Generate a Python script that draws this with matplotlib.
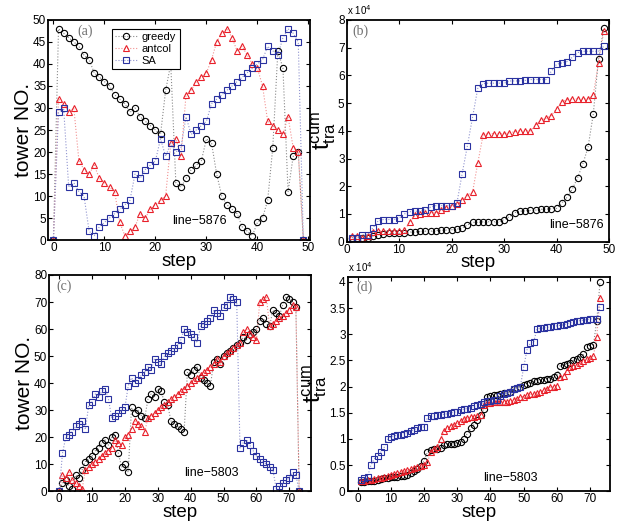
import matplotlib
matplotlib.use('Agg')
import matplotlib.pyplot as plt

plt.rcParams['font.family'] = ['Liberation Sans', 'DejaVu Sans']

# (a) tower visiting order, line-5876
a_steps = list(range(50))
a_greedy = [0, 48, 47, 46, 45, 44, 42, 41, 38, 37, 36, 35, 33, 32, 31, 29, 30, 28, 27, 26,
            25, 24, 34, 40, 13, 12, 14, 16, 17, 18, 23, 22, 15, 10, 8, 7, 6, 3, 2, 1,
            4, 5, 9, 21, 43, 39, 11, 19, 20, 0]
a_antcol = [0, 32, 31, 29, 30, 18, 16, 15, 17, 14, 13, 12, 11, 4, 1, 2, 3, 6, 5, 7,
            8, 9, 10, 22, 23, 19, 33, 34, 36, 37, 38, 41, 45, 47, 48, 46, 43, 44, 42, 40,
            39, 35, 27, 26, 25, 24, 28, 21, 20, 0]
a_sa = [0, 29, 30, 12, 13, 11, 10, 2, 1, 3, 4, 5, 6, 7, 8, 9, 15, 14, 16, 17,
        18, 23, 19, 22, 20, 21, 28, 24, 25, 26, 27, 31, 32, 33, 34, 35, 36, 37, 38, 39,
        40, 41, 44, 43, 42, 46, 48, 47, 45, 0]

# (b) cumulative travel time (x 10^4), line-5876
b_steps = list(range(1, 50))
b_greedy = [0.15, 0.15, 0.15, 0.15, 0.2, 0.25, 0.28, 0.3, 0.3, 0.3,
            0.32, 0.35, 0.35, 0.37, 0.38, 0.38, 0.4, 0.42, 0.42, 0.43,
            0.45, 0.5, 0.6, 0.7, 0.7, 0.72, 0.72, 0.72, 0.72, 0.8,
            0.9, 1.05, 1.1, 1.12, 1.13, 1.14, 1.17, 1.18, 1.19, 1.2,
            1.4, 1.6, 1.9, 2.3, 2.8, 3.4, 4.6, 6.6, 7.7]
b_antcol = [0.2, 0.2, 0.15, 0.2, 0.35, 0.4, 0.4, 0.4, 0.4, 0.4,
            0.42, 0.7, 0.95, 1.0, 1.02, 1.05, 1.05, 1.15, 1.2, 1.28,
            1.35, 1.5, 1.65, 1.8, 2.85, 3.85, 3.9, 3.9, 3.9, 3.9,
            3.92, 3.97, 4.0, 4.0, 4.0, 4.2, 4.4, 4.45, 4.55, 4.8,
            5.05, 5.12, 5.15, 5.15, 5.15, 5.15, 5.3, 6.45, 7.6]
b_sa = [0.15, 0.15, 0.25, 0.25, 0.5, 0.75, 0.8, 0.8, 0.8, 0.85,
        1.0, 1.08, 1.1, 1.1, 1.15, 1.25, 1.3, 1.3, 1.3, 1.3,
        1.38, 2.45, 3.45, 4.5, 5.55, 5.7, 5.72, 5.72, 5.72, 5.72,
        5.8, 5.8, 5.8, 5.82, 5.85, 5.85, 5.85, 5.85, 6.15, 6.4,
        6.45, 6.5, 6.65, 6.82, 6.87, 6.87, 6.87, 6.87, 7.05]

# (c) tower visiting order, line-5803
c_steps = list(range(74))
c_greedy = [0, 3, 4, 2, 1, 6, 5, 8, 11, 12, 13, 15, 16, 18, 19, 17, 20, 21, 14, 9,
            10, 7, 31, 29, 30, 28, 27, 34, 36, 35, 38, 37, 33, 32, 26, 25, 24, 23, 22, 44,
            43, 45, 46, 42, 41, 40, 39, 48, 49, 47, 50, 51, 52, 53, 54, 55, 57, 56, 58, 59,
            60, 63, 64, 62, 61, 67, 66, 65, 69, 72, 71, 70, 68, 0]
c_antcol = [0, 6, 5, 7, 4, 3, 2, 1, 8, 9, 10, 11, 12, 13, 14, 15, 16, 19, 18, 17,
            20, 21, 23, 26, 25, 24, 22, 27, 28, 29, 30, 31, 32, 33, 34, 35, 36, 37, 38, 39,
            40, 41, 42, 43, 44, 45, 46, 47, 49, 48, 50, 51, 52, 53, 54, 55, 59, 60, 58, 57,
            56, 70, 71, 72, 61, 62, 63, 64, 65, 66, 67, 69, 68, 0]
c_sa = [0, 14, 20, 21, 22, 24, 25, 26, 23, 32, 33, 36, 35, 37, 38, 34, 27, 28, 29, 30,
        31, 39, 42, 40, 41, 43, 44, 46, 45, 49, 48, 47, 50, 51, 52, 53, 54, 56, 60, 59,
        58, 57, 55, 61, 62, 63, 64, 67, 66, 65, 68, 69, 72, 71, 70, 16, 18, 19, 17, 15,
        13, 12, 11, 10, 9, 8, 1, 2, 3, 4, 5, 7, 6, 0]

# (d) cumulative travel time (x 10^4), line-5803
d_steps = list(range(1, 74))
d_greedy = [0.18, 0.18, 0.19, 0.2, 0.2, 0.22, 0.23, 0.25, 0.26, 0.27,
            0.28, 0.28, 0.29, 0.3, 0.32, 0.34, 0.38, 0.42, 0.48, 0.58,
            0.75, 0.78, 0.8, 0.8, 0.82, 0.88, 0.9, 0.9, 0.9, 0.92,
            0.95, 1.0, 1.1, 1.2, 1.27, 1.37, 1.46, 1.58, 1.8, 1.82,
            1.83, 1.84, 1.85, 1.87, 1.88, 1.9, 1.95, 1.98, 2.0, 2.03,
            2.05, 2.07, 2.1, 2.11, 2.12, 2.13, 2.14, 2.15, 2.18, 2.22,
            2.4, 2.41, 2.43, 2.45, 2.5, 2.52, 2.56, 2.62, 2.75, 2.78,
            2.8, 3.25, 4.0]
d_antcol = [0.2, 0.2, 0.22, 0.22, 0.24, 0.25, 0.26, 0.28, 0.3, 0.32,
            0.33, 0.35, 0.37, 0.38, 0.4, 0.42, 0.44, 0.46, 0.48, 0.5,
            0.55, 0.75, 0.8, 0.85, 1.0, 1.15, 1.2, 1.25, 1.27, 1.3,
            1.35, 1.38, 1.4, 1.42, 1.42, 1.43, 1.45, 1.65, 1.68, 1.69,
            1.7, 1.7, 1.7, 1.7, 1.71, 1.72, 1.75, 1.77, 1.8, 1.81,
            1.83, 1.85, 1.86, 1.88, 1.9, 1.93, 1.96, 1.99, 2.0, 2.02,
            2.18, 2.2, 2.3, 2.38, 2.4, 2.42, 2.45, 2.48, 2.52, 2.55,
            2.58, 2.95, 3.7]
d_sa = [0.22, 0.26, 0.28, 0.5, 0.62, 0.68, 0.75, 0.84, 0.99, 1.04,
        1.06, 1.07, 1.08, 1.1, 1.12, 1.15, 1.18, 1.2, 1.22, 1.23,
        1.4, 1.43, 1.44, 1.45, 1.46, 1.47, 1.48, 1.5, 1.51, 1.52,
        1.55, 1.57, 1.58, 1.6, 1.62, 1.64, 1.66, 1.7, 1.72, 1.73,
        1.74, 1.75, 1.82, 1.85, 1.87, 1.9, 1.95, 1.98, 2.0, 2.37,
        2.7, 2.83, 2.85, 3.1, 3.11, 3.12, 3.13, 3.14, 3.15, 3.16,
        3.17, 3.18, 3.2, 3.22, 3.24, 3.25, 3.26, 3.27, 3.28, 3.29,
        3.3, 3.3, 3.52]

series_names = ['greedy', 'antcol', 'SA']
markers = ['o', '^', 's']
edge_colors = ['#000000', '#e8202a', '#2a32a0']
line_colors = ['#8a8a8a', '#f29090', '#8f93cf']

fig = plt.figure(figsize=(6.25, 5.26), dpi=100)
ax_a = fig.add_axes([0.0773, 0.5437, 0.4187, 0.4183])
ax_b = fig.add_axes([0.5547, 0.5405, 0.4197, 0.4215])
ax_c = fig.add_axes([0.0789, 0.0660, 0.4182, 0.4112])
ax_d = fig.add_axes([0.5563, 0.0660, 0.4197, 0.4080])


def draw_panel(ax, x, ys):
    for y, name, m, ec, lc in zip(ys, series_names, markers, edge_colors, line_colors):
        ax.plot(x, y, linestyle=':', linewidth=0.8, color=lc, marker=m, markersize=4.5,
                markerfacecolor='none', markeredgecolor=ec, markeredgewidth=0.8, label=name)
    ax.tick_params(direction='in', top=True, right=True, length=3, width=0.8,
                   labelsize=8.5, pad=1.5)
    for s in ax.spines.values():
        s.set_linewidth(1.3)
    ax.set_xlabel('step', fontsize=13.5, labelpad=-1)


draw_panel(ax_a, a_steps, [a_greedy, a_antcol, a_sa])
ax_a.set_xlim(-1, 50.3)
ax_a.set_ylim(0, 50)
ax_a.set_xticks(range(0, 51, 10))
ax_a.set_yticks(range(0, 51, 5))
ax_a.set_ylabel('tower NO.', fontsize=15, labelpad=0)
leg = ax_a.legend(loc='upper left', bbox_to_anchor=(0.222, 0.985), fontsize=8,
                  frameon=True, fancybox=False, framealpha=1, edgecolor='k',
                  handlelength=2.0, borderpad=0.3, labelspacing=0.15, handletextpad=0.4)
leg.get_frame().set_linewidth(0.8)

draw_panel(ax_b, b_steps, [b_greedy, b_antcol, b_sa])
ax_b.set_xlim(0, 50)
ax_b.set_ylim(0, 8)
ax_b.set_xticks(range(0, 51, 10))
ax_b.set_yticks(range(0, 9))

draw_panel(ax_c, c_steps, [c_greedy, c_antcol, c_sa])
ax_c.set_xlim(-3, 76.5)
ax_c.set_ylim(0, 80)
ax_c.set_xticks(range(0, 71, 10))
ax_c.set_yticks(range(0, 81, 10))
ax_c.set_ylabel('tower NO.', fontsize=15, labelpad=0)

draw_panel(ax_d, d_steps, [d_greedy, d_antcol, d_sa])
ax_d.set_xlim(-3, 76)
ax_d.set_ylim(0, 4.1)
ax_d.set_xticks(range(0, 71, 10))
ax_d.set_yticks([0, 0.5, 1, 1.5, 2, 2.5, 3, 3.5, 4])
ax_d.set_yticklabels(['0', '0.5', '1', '1.5', '2', '2.5', '3', '3.5', '4'])

for ax in (ax_b, ax_d):
    ax.set_ylabel(r'$\mathregular{t^{cum}_{tra}}$', fontsize=17, labelpad=0)
    ax.text(0.0, 1.012, r'x 10$^4$', transform=ax.transAxes, fontsize=7, ha='left', va='bottom')

# panel tags and line names
tags = [(ax_a, 0.11, '(a)'), (ax_b, 0.023, '(b)'), (ax_c, 0.028, '(c)'), (ax_d, 0.034, '(d)')]
for ax, tx, t in tags:
    ax.text(tx, 0.95, t, transform=ax.transAxes, fontsize=10, color='#707070',
            family='Liberation Serif', ha='left', va='center')

ax_a.text(0.473, 0.086, 'line\u22125876', transform=ax_a.transAxes, fontsize=9, va='center')
ax_b.text(0.771, 0.075, 'line\u22125876', transform=ax_b.transAxes, fontsize=9, va='center')
ax_c.text(0.515, 0.084, 'line\u22125803', transform=ax_c.transAxes, fontsize=9, va='center')
ax_d.text(0.517, 0.06, 'line\u22125803', transform=ax_d.transAxes, fontsize=9, va='center')

fig.savefig('out.png', dpi=100)
